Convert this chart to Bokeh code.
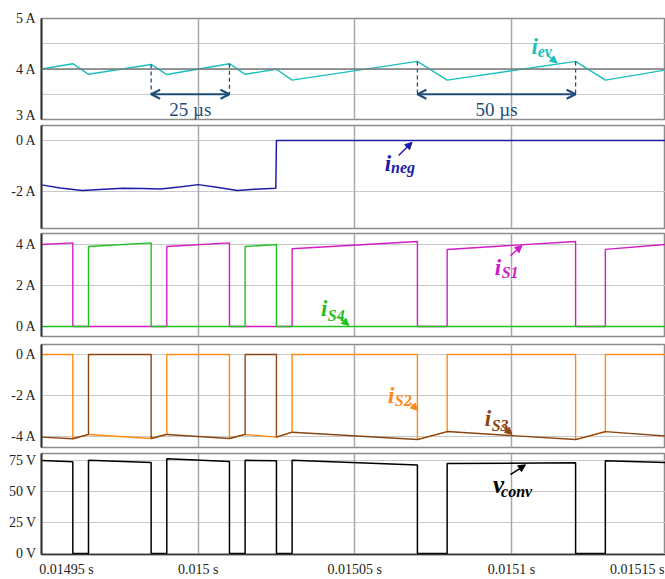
from bokeh.plotting import figure
from bokeh.layouts import column
from bokeh.models import (Range1d, FixedTicker, CustomJSTickFormatter, Span, Arrow,
                          OpenHead, NormalHead, Label, Grid)
from bokeh.embed import file_html
from bokeh.resources import INLINE

T0 = 0.01495  # s, start of window; times below in microseconds after T0

# ---------------- data ----------------
t_ev = [0, 10, 15, 35, 40, 60, 65, 75, 80, 120, 129.5, 170.5, 180, 199.2]
i_ev = [4.0, 4.105, 3.895, 4.09, 3.89, 4.105, 3.895, 3.995, 3.78, 4.15, 3.78, 4.15, 3.78, 3.98]

t_neg = [0, 6, 13, 20, 26, 32, 38, 44, 50, 56, 62.5, 68, 74.8, 75, 199.2]
i_neg = [-1.74, -1.86, -1.96, -1.91, -1.87, -1.88, -1.90, -1.82, -1.73, -1.83, -1.96, -1.91, -1.87, 0, 0]

t_s1 = [0, 10, 10, 40, 40, 60, 60, 80, 80, 120, 120, 129.5, 129.5, 170.5, 170.5, 180, 180, 199.2]
i_s1 = [4.0, 4.08, 0, 0, 3.9, 4.08, 0, 0, 3.79, 4.15, 0, 0, 3.76, 4.15, 0, 0, 3.76, 4.0]

t_s4 = [0, 15, 15, 35, 35, 65, 65, 75, 75, 199.2]
i_s4 = [0, 0, 3.9, 4.08, 0, 0, 3.9, 4.0, 0, 0]

t_s2 = [0, 10, 10, 15, 35, 40, 40, 60, 60, 65, 75, 80, 80, 120, 120, 129.5, 129.5, 170.5, 170.5, 180, 180, 199.2]
i_s2 = [0, 0, -4.11, -3.9, -4.1, -3.9, 0, 0, -4.1, -3.9, -4.03, -3.79, 0, 0, -4.15, -3.76, 0, 0, -4.15, -3.76, 0, 0]

t_s3 = [0, 10, 15, 15, 35, 35, 40, 60, 65, 65, 75, 75, 80, 120, 129.5, 170.5, 180, 199.2]
i_s3 = [-4.03, -4.11, -3.9, 0, 0, -4.1, -3.9, -4.1, -3.9, 0, 0, -4.03, -3.79, -4.15, -3.76, -4.15, -3.76, -3.98]

t_v = [0, 10, 10, 15, 15, 35, 35, 40, 40, 60, 60, 65, 65, 75, 75, 80, 80, 120, 120, 129.5, 129.5, 170.5, 170.5, 180, 180, 199.2]
v_conv = [74.8, 73.8, 0, 0, 75.1, 73.3, 0, 0, 76.2, 74.1, 0, 0, 75.1, 74.6, 0, 0, 75.1, 71.2, 0, 0, 72.5, 73.0, 0, 0, 74.6, 73.3]

x_grid = [0.01495, 0.015, 0.01505, 0.0151]
x_tick_labels = ["0.01495 s", "0.015 s", "0.01505 s", "0.0151 s", "0.01515 s"]
y_ticks = [[3, 4, 5], [-2, 0], [0, 2, 4], [-4, -2, 0], [0, 25, 50, 75]]
units = ["A", "A", "A", "A", "V"]

# ---------------- helpers ----------------
def s(ts):
    return [T0 + u * 1e-6 for u in ts]

FONT = "Liberation Serif"
AXFONT = "'Liberation Serif'"
T_END = 199.2
xr = Range1d(T0, T0 + T_END * 1e-6)
# label anchor positions: the first and last labels are nudged inward to fit the frame
x_label_pos = [T0 + 8.0e-6, 0.015, 0.01505, 0.0151, T0 + 190.2e-6]

def make_fig(yr, height, top, bottom, ticks, unit, xaxis=False, hgrid=None):
    p = figure(width=665, height=height, x_range=xr, y_range=Range1d(*yr),
               output_backend="svg", toolbar_location=None,
               min_border_left=41, min_border_right=0,
               min_border_top=top, min_border_bottom=bottom,
               x_axis_location="below" if xaxis else None)
    for g in p.grid:
        g.visible = False
    p.add_layout(Grid(dimension=1, ticker=FixedTicker(ticks=hgrid if hgrid else ticks),
                      grid_line_color="#c8c8c8", grid_line_width=1))
    p.add_layout(Grid(dimension=0, ticker=FixedTicker(ticks=x_grid),
                      grid_line_color="#a8a8a8", grid_line_width=1.5))
    p.outline_line_color = "#8c8c8c"
    p.outline_line_width = 1.5
    ax = p.yaxis[0]
    ax.ticker = FixedTicker(ticks=ticks)
    ax.formatter = CustomJSTickFormatter(code="return tick + ' %s';" % unit)
    ax.major_tick_out = 0
    ax.major_tick_in = 0
    ax.minor_tick_out = 0
    ax.minor_tick_in = 0
    ax.axis_line_color = "#333333"
    ax.axis_line_width = 2
    ax.major_label_text_font = AXFONT
    ax.major_label_text_font_size = "14px"
    ax.major_label_text_color = "#222222"
    ax.major_label_standoff = 5
    if xaxis:
        xa = p.xaxis[0]
        xa.ticker = FixedTicker(ticks=x_label_pos)
        xa.formatter = CustomJSTickFormatter(
            args=dict(pos=x_label_pos, labels=x_tick_labels),
            code="""
            let best = 0;
            for (let k = 0; k < pos.length; k++) {
                if (Math.abs(pos[k] - tick) < Math.abs(pos[best] - tick)) best = k;
            }
            return labels[best];
            """)
        xa.major_tick_out = 0
        xa.major_tick_in = 0
        xa.minor_tick_out = 0
        xa.minor_tick_in = 0
        xa.axis_line_color = "#333333"
        xa.axis_line_width = 1.5
        xa.major_label_text_font = AXFONT
        xa.major_label_text_font_size = "14px"
        xa.major_label_text_color = "#222222"
        xa.major_label_standoff = 7
    return p

def tag(p, x, y, main, sub, color, dx_sub=2.0, dy_sub=0.0, main_size="23px", sub_size="16px"):
    p.add_layout(Label(x=T0 + x * 1e-6, y=y, text=main, text_font=FONT,
                       text_font_style="bold italic", text_font_size=main_size,
                       text_color=color, text_baseline="alphabetic"))
    p.add_layout(Label(x=T0 + (x + dx_sub) * 1e-6, y=y - dy_sub, text=sub, text_font=FONT,
                       text_font_style="bold italic", text_font_size=sub_size,
                       text_color=color, text_baseline="alphabetic"))

def pointer(p, x0, y0, x1, y1, color):
    p.add_layout(Arrow(end=NormalHead(size=7, fill_color=color, line_color=color),
                       x_start=T0 + x0 * 1e-6, y_start=y0, x_end=T0 + x1 * 1e-6, y_end=y1,
                       line_color=color, line_width=1.5))

# ---------------- panel 1: i_ev ----------------
C_EV = "#1cbfbf"
NAVY = "#1f4e79"
p1 = make_fig((3, 5), 122, 18, 3, y_ticks[0], units[0], hgrid=[3.5, 4, 4.5])
p1.add_layout(Span(location=4, dimension="width", line_color="#7a7a7a", line_width=1.5))
p1.line(s(t_ev), i_ev, line_color=C_EV, line_width=1.4)
for a, b, ya, yb in [(35, 60, 4.09, 4.105), (120, 170.5, 4.15, 4.15)]:
    p1.segment(x0=s([a, b]), y0=[ya, yb], x1=s([a, b]), y1=[3.5, 3.5],
               line_color=NAVY, line_width=1.3, line_dash="4 3")
    p1.add_layout(Arrow(start=OpenHead(size=9, line_color=NAVY, line_width=2),
                        end=OpenHead(size=9, line_color=NAVY, line_width=2),
                        x_start=T0 + a * 1e-6, y_start=3.5, x_end=T0 + b * 1e-6, y_end=3.5,
                        line_color=NAVY, line_width=2))
    p1.add_layout(Label(x=T0 + (a + b) / 2 * 1e-6, y=3.40,
                        text="%d µs" % round(b - a), text_font=FONT, text_font_size="19px",
                        text_color=NAVY, text_align="center", text_baseline="top"))
tag(p1, 156.4, 4.44, "i", "ev", C_EV, dx_sub=2.0, dy_sub=0.1)
pointer(p1, 161.4, 4.28, 164.6, 4.12, C_EV)

# ---------------- panel 2: i_neg ----------------
C_NEG = "#1c1ca8"
p2 = make_fig((-3.45, 0.588), 108, 3, 2, y_ticks[1], units[1])
p2.line(s(t_neg), i_neg, line_color=C_NEG, line_width=1.5)
tag(p2, 109.6, -0.9, "i", "neg", C_NEG, dx_sub=2.0, dy_sub=0.16)
pointer(p2, 114.0, -0.59, 118.3, -0.07, C_NEG)

# ---------------- panel 3: i_S1, i_S4 ----------------
C_S1 = "#d21cc4"
C_S4 = "#1fc11f"
p3 = make_fig((-0.488, 4.537), 110, 3, 4, y_ticks[2], units[2])
p3.line(s(t_s1), i_s1, line_color=C_S1, line_width=1.4)
p3.line(s(t_s4), i_s4, line_color=C_S4, line_width=1.4)
tag(p3, 144.7, 2.88, "i", "S1", C_S1, dx_sub=2.2, dy_sub=0.25)
pointer(p3, 149.7, 3.46, 153.4, 3.95, C_S1)
tag(p3, 89.2, 0.88, "i", "S4", C_S4, dx_sub=2.2, dy_sub=0.34)
pointer(p3, 94.9, 0.49, 98.1, 0.05, C_S4)

# ---------------- panel 4: i_S2, i_S3 ----------------
C_S2 = "#ff8a14"
C_S3 = "#8b4513"
p4 = make_fig((-4.537, 0.488), 110, 4, 3, y_ticks[3], units[3])
p4.line(s(t_s2), i_s2, line_color=C_S2, line_width=1.4)
p4.line(s(t_s3), i_s3, line_color=C_S3, line_width=1.4)
tag(p4, 110.6, -2.0, "i", "S2", C_S2, dx_sub=2.2, dy_sub=0.25)
pointer(p4, 117.5, -2.34, 120.1, -2.73, C_S2)
tag(p4, 141.5, -3.12, "i", "S3", C_S3, dx_sub=2.2, dy_sub=0.34)
pointer(p4, 147.0, -3.46, 150.2, -3.9, C_S3)

# ---------------- panel 5: v_conv ----------------
p5 = make_fig((-0.79, 80.5), 129, 3, 23, y_ticks[4], units[4], xaxis=True)
p5.line(s(t_v), v_conv, line_color="#000000", line_width=1.5)
tag(p5, 144.1, 55.6, "v", "conv", "#000000", dx_sub=2.6, dy_sub=5.4, main_size="25px")
pointer(p5, 149.7, 63.5, 154.5, 71.4, "#000000")

layout = column(p1, p2, p3, p4, p5, spacing=0)
open("out.html", "w").write(file_html(layout, INLINE))
